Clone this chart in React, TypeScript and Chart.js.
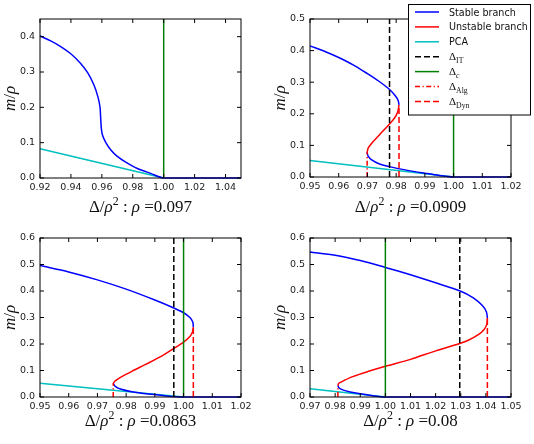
import React, { useEffect, useRef } from 'react';
import { Chart, registerables } from 'chart.js';

Chart.register(...registerables);

// ---------- colours ----------
const BLUE = '#0000ff';
const RED = '#ff0000';
const CYAN = '#00bfbf';
const GREEN = '#008000';
const BLACK = '#000000';

// ---------- ρ = 0.097 ----------
const A_X_TICKS = [0.92, 0.94, 0.96, 0.98, 1.0, 1.02, 1.04];
const A_Y_TICKS = [0.0, 0.1, 0.2, 0.3, 0.4];
const A_STABLE_X = [0.92, 0.9269, 0.9334, 0.9401, 0.9463, 0.9511, 0.9549, 0.9575, 0.9588, 0.9592, 0.9597, 0.9605, 0.9625, 0.9657, 0.97, 0.9754, 0.983, 0.9916, 1.0, 1.05];
const A_STABLE_Y = [0.402, 0.388, 0.372, 0.351, 0.324, 0.296, 0.263, 0.229, 0.201, 0.173, 0.139, 0.12, 0.101, 0.08, 0.061, 0.045, 0.027, 0.013, 0.0, 0.0];
const A_PCA_X = [0.92, 1.0];
const A_PCA_Y = [0.083, 0.0];
const A_DELTA_C = 1.0;

// ---------- ρ = 0.0909 ----------
const B_X_TICKS = [0.95, 0.96, 0.97, 0.98, 0.99, 1.0, 1.01, 1.02];
const B_Y_TICKS = [0.0, 0.1, 0.2, 0.3, 0.4, 0.5];
const B_UPPER_X = [0.95, 0.955, 0.96, 0.965, 0.97, 0.974, 0.9777, 0.9797, 0.9807, 0.981];
const B_UPPER_Y = [0.415, 0.398, 0.378, 0.355, 0.327, 0.303, 0.277, 0.257, 0.242, 0.228];
const B_UNSTABLE_X = [0.981, 0.9805, 0.9793, 0.9777, 0.9755, 0.9733, 0.9715, 0.9703, 0.9699];
const B_UNSTABLE_Y = [0.228, 0.205, 0.185, 0.168, 0.146, 0.125, 0.107, 0.092, 0.079];
const B_LOWER_X = [0.9699, 0.9702, 0.9715, 0.974, 0.978, 0.984, 0.99, 0.995, 1.0, 1.02];
const B_LOWER_Y = [0.079, 0.067, 0.054, 0.042, 0.032, 0.021, 0.012, 0.005, 0.0, 0.0];
const B_PCA_X = [0.95, 1.0];
const B_PCA_Y = [0.052, 0.0];
const B_DELTA_IT = 0.9777;
const B_DELTA_C = 1.0;
const B_DELTA_ALG = 0.9699;
const B_DELTA_DYN = 0.981;

// ---------- ρ = 0.0863 ----------
const C_X_TICKS = [0.95, 0.96, 0.97, 0.98, 0.99, 1.0, 1.01, 1.02];
const C_Y_TICKS = [0.0, 0.1, 0.2, 0.3, 0.4, 0.5, 0.6];
const C_UPPER_X = [0.95, 0.96, 0.97, 0.98, 0.99, 0.9966, 1.0, 1.0022, 1.0032, 1.0034];
const C_UPPER_Y = [0.496, 0.472, 0.442, 0.407, 0.366, 0.336, 0.318, 0.3, 0.283, 0.264];
const C_UNSTABLE_X = [1.0034, 1.0031, 1.0022, 1.0, 0.9966, 0.992, 0.987, 0.982, 0.9785, 0.9763, 0.9755];
const C_UNSTABLE_Y = [0.264, 0.245, 0.228, 0.207, 0.183, 0.152, 0.124, 0.097, 0.077, 0.062, 0.052];
const C_LOWER_X = [0.9755, 0.9762, 0.978, 0.982, 0.988, 0.994, 1.0, 1.02];
const C_LOWER_Y = [0.052, 0.04, 0.03, 0.02, 0.011, 0.004, 0.0, 0.0];
const C_PCA_X = [0.95, 1.0];
const C_PCA_Y = [0.052, 0.0];
const C_DELTA_IT = 0.9966;
const C_DELTA_C = 1.0;
const C_DELTA_ALG = 0.9755;
const C_DELTA_DYN = 1.0034;

// ---------- ρ = 0.08 ----------
const D_X_TICKS = [0.97, 0.98, 0.99, 1.0, 1.01, 1.02, 1.03, 1.04, 1.05];
const D_Y_TICKS = [0.0, 0.1, 0.2, 0.3, 0.4, 0.5, 0.6];
const D_UPPER_X = [0.97, 0.98, 0.99, 1.0, 1.01, 1.02, 1.03, 1.035, 1.0385, 1.0402, 1.0406];
const D_UPPER_Y = [0.547, 0.535, 0.515, 0.489, 0.461, 0.431, 0.399, 0.374, 0.346, 0.322, 0.298];
const D_UNSTABLE_X = [1.0406, 1.0404, 1.0393, 1.037, 1.033, 1.0296, 1.02, 1.01, 1.0, 0.993, 0.987, 0.9835, 0.9815, 0.9811];
const D_UNSTABLE_Y = [0.298, 0.275, 0.255, 0.235, 0.214, 0.202, 0.174, 0.142, 0.116, 0.096, 0.077, 0.062, 0.052, 0.044];
const D_LOWER_X = [0.9811, 0.9815, 0.983, 0.986, 0.99, 0.995, 1.0, 1.05];
const D_LOWER_Y = [0.044, 0.035, 0.027, 0.019, 0.012, 0.005, 0.0, 0.0];
const D_PCA_X = [0.97, 1.0];
const D_PCA_Y = [0.031, 0.0];
const D_DELTA_IT = 1.0296;
const D_DELTA_C = 1.0;
const D_DELTA_ALG = 0.9811;
const D_DELTA_DYN = 1.0406;

// ---------- layout ----------
const CW = 267;
const CH = 222;
const TICK_FONT = '"DejaVu Sans", sans-serif';
const MATH_FONT = '"Liberation Serif", "DejaVu Serif", serif';

type Series = { xs: number[]; ys: number[]; color: string; dash?: number[]; width?: number; smooth?: boolean };
type Panel = {
  pos: [number, number];
  area: { l: number; t: number; r: number; b: number };
  xRange: [number, number];
  yRange: [number, number];
  xTicks: number[];
  yTicks: number[];
  rho: string;
  titleY: number;
  series: Series[];
  legend?: boolean;
};

const DASHED = [6, 3];
const DASHDOT = [5, 2.5, 1.2, 2.5];

const vline = (x: number, top: number, color: string, dash?: number[]): Series => ({
  xs: [x, x],
  ys: [0, top],
  color,
  dash,
});

const curve = (xs: number[], ys: number[], color: string): Series => ({ xs, ys, color, smooth: true });

const PANELS: Panel[] = [
  {
    pos: [0, 0],
    area: { l: 40, t: 19, r: 241, b: 178 },
    xRange: [0.92, 1.05],
    yRange: [0, 0.45],
    xTicks: A_X_TICKS,
    yTicks: A_Y_TICKS,
    rho: '0.097',
    titleY: 212,
    series: [
      { xs: A_PCA_X, ys: A_PCA_Y, color: CYAN },
      curve(A_STABLE_X, A_STABLE_Y, BLUE),
      vline(A_DELTA_C, 0.45, GREEN),
    ],
  },
  {
    pos: [267, 0],
    area: { l: 43, t: 19, r: 244, b: 177 },
    xRange: [0.95, 1.02],
    yRange: [0, 0.5],
    xTicks: B_X_TICKS,
    yTicks: B_Y_TICKS,
    rho: '0.0909',
    titleY: 212,
    legend: true,
    series: [
      { xs: B_PCA_X, ys: B_PCA_Y, color: CYAN },
      curve(B_UPPER_X, B_UPPER_Y, BLUE),
      curve(B_LOWER_X, B_LOWER_Y, BLUE),
      curve(B_UNSTABLE_X, B_UNSTABLE_Y, RED),
      vline(B_DELTA_IT, 0.5, BLACK, DASHED),
      vline(B_DELTA_C, 0.5, GREEN),
      vline(B_DELTA_ALG, B_UNSTABLE_Y[B_UNSTABLE_Y.length - 1], RED, DASHDOT),
      vline(B_DELTA_DYN, B_UNSTABLE_Y[0], RED, DASHED),
    ],
  },
  {
    pos: [0, 222],
    area: { l: 40, t: 16, r: 241, b: 175 },
    xRange: [0.95, 1.02],
    yRange: [0, 0.6],
    xTicks: C_X_TICKS,
    yTicks: C_Y_TICKS,
    rho: '0.0863',
    titleY: 204,
    series: [
      { xs: C_PCA_X, ys: C_PCA_Y, color: CYAN },
      curve(C_UPPER_X, C_UPPER_Y, BLUE),
      curve(C_LOWER_X, C_LOWER_Y, BLUE),
      curve(C_UNSTABLE_X, C_UNSTABLE_Y, RED),
      vline(C_DELTA_IT, 0.6, BLACK, DASHED),
      vline(C_DELTA_C, 0.6, GREEN),
      vline(C_DELTA_ALG, C_UNSTABLE_Y[C_UNSTABLE_Y.length - 1], RED, DASHDOT),
      vline(C_DELTA_DYN, C_UNSTABLE_Y[0], RED, DASHED),
    ],
  },
  {
    pos: [267, 222],
    area: { l: 43, t: 16, r: 244, b: 175 },
    xRange: [0.97, 1.05],
    yRange: [0, 0.6],
    xTicks: D_X_TICKS,
    yTicks: D_Y_TICKS,
    rho: '0.08',
    titleY: 204,
    series: [
      { xs: D_PCA_X, ys: D_PCA_Y, color: CYAN },
      curve(D_UPPER_X, D_UPPER_Y, BLUE),
      curve(D_LOWER_X, D_LOWER_Y, BLUE),
      curve(D_UNSTABLE_X, D_UNSTABLE_Y, RED),
      vline(D_DELTA_IT, 0.6, BLACK, DASHED),
      vline(D_DELTA_C, 0.6, GREEN),
      vline(D_DELTA_ALG, D_UNSTABLE_Y[D_UNSTABLE_Y.length - 1], RED, DASHDOT),
      vline(D_DELTA_DYN, D_UNSTABLE_Y[0], RED, DASHED),
    ],
  },
];

// ---------- mixed roman / italic / script text ----------
type Run = { t: string; it?: boolean; sup?: boolean; sub?: boolean };

function drawRuns(
  ctx: CanvasRenderingContext2D,
  runs: Run[],
  x: number,
  y: number,
  size: number,
  align: 'left' | 'center',
  family: string
) {
  const fontFor = (r: Run) => {
    const s = r.sup || r.sub ? size * 0.7 : size;
    return `${r.it ? 'italic ' : ''}${s}px ${family}`;
  };
  let total = 0;
  for (const r of runs) {
    ctx.font = fontFor(r);
    total += ctx.measureText(r.t).width;
  }
  let cx = align === 'center' ? x - total / 2 : x;
  ctx.textAlign = 'left';
  ctx.textBaseline = 'alphabetic';
  for (const r of runs) {
    ctx.font = fontFor(r);
    const dy = r.sup ? -size * 0.42 : r.sub ? size * 0.25 : 0;
    ctx.fillText(r.t, cx, y + dy);
    cx += ctx.measureText(r.t).width;
  }
}

const LEGEND: { label: Run[]; color: string; dash?: number[]; math?: boolean }[] = [
  { label: [{ t: 'Stable branch' }], color: BLUE },
  { label: [{ t: 'Unstable branch' }], color: RED },
  { label: [{ t: 'PCA' }], color: CYAN },
  { label: [{ t: 'Δ' }, { t: 'IT', sub: true }], color: BLACK, dash: DASHED, math: true },
  { label: [{ t: 'Δ' }, { t: 'c', sub: true, it: true }], color: GREEN, math: true },
  { label: [{ t: 'Δ' }, { t: 'Alg', sub: true }], color: RED, dash: DASHDOT, math: true },
  { label: [{ t: 'Δ' }, { t: 'Dyn', sub: true }], color: RED, dash: DASHED, math: true },
];

function makeDecor(p: Panel) {
  return {
    id: 'decor',
    afterDraw(chart: any) {
      const ctx: CanvasRenderingContext2D = chart.ctx;
      const { left, right, top, bottom } = chart.chartArea;
      const xs = chart.scales.x;
      const ys = chart.scales.y;
      ctx.save();
      // frame
      ctx.strokeStyle = '#000';
      ctx.lineWidth = 1;
      ctx.setLineDash([]);
      ctx.strokeRect(left, top, right - left, bottom - top);
      // inward ticks on all four sides
      const TL = 4;
      ctx.beginPath();
      for (const v of p.xTicks) {
        const px = xs.getPixelForValue(v);
        ctx.moveTo(px, bottom);
        ctx.lineTo(px, bottom - TL);
        ctx.moveTo(px, top);
        ctx.lineTo(px, top + TL);
      }
      for (const v of p.yTicks) {
        const py = ys.getPixelForValue(v);
        ctx.moveTo(left, py);
        ctx.lineTo(left + TL, py);
        ctx.moveTo(right, py);
        ctx.lineTo(right - TL, py);
      }
      ctx.stroke();

      // axis titles
      ctx.fillStyle = '#111';
      drawRuns(
        ctx,
        [
          { t: 'Δ/' },
          { t: 'ρ', it: true },
          { t: '2', sup: true },
          { t: ' : ' },
          { t: 'ρ', it: true },
          { t: ' =' },
          { t: p.rho },
        ],
        (left + right) / 2,
        p.titleY,
        17,
        'center',
        MATH_FONT
      );
      ctx.save();
      ctx.translate(left - 30, (top + bottom) / 2);
      ctx.rotate(-Math.PI / 2);
      drawRuns(ctx, [{ t: 'm', it: true }, { t: '/' }, { t: 'ρ', it: true }], 0, 5, 17, 'center', MATH_FONT);
      ctx.restore();

      // legend
      if (p.legend) {
        const bx = 141.5;
        const by = 4.5;
        const bw = 122;
        const bh = 110.5;
        ctx.fillStyle = '#fff';
        ctx.fillRect(bx, by, bw, bh);
        ctx.strokeStyle = '#000';
        ctx.lineWidth = 1;
        ctx.setLineDash([]);
        ctx.strokeRect(bx, by, bw, bh);
        LEGEND.forEach((e, i) => {
          const ly = 12 + i * 14.9;
          ctx.strokeStyle = e.color;
          ctx.lineWidth = 1.5;
          ctx.setLineDash(e.dash || []);
          ctx.beginPath();
          ctx.moveTo(148, ly);
          ctx.lineTo(172, ly);
          ctx.stroke();
          ctx.setLineDash([]);
          ctx.fillStyle = '#111';
          if (e.math) {
            drawRuns(ctx, e.label, 182, ly + 3.5, 11, 'left', MATH_FONT);
          } else {
            drawRuns(ctx, e.label, 182, ly + 3.5, 9.6, 'left', TICK_FONT);
          }
        });
      }
      ctx.restore();
    },
  };
}

function PanelChart({ p }: { p: Panel }) {
  const ref = useRef<HTMLCanvasElement | null>(null);
  useEffect(() => {
    if (!ref.current) return;
    const n = p.series.length;
    const chart = new Chart(ref.current, {
      type: 'scatter',
      data: {
        datasets: p.series.map((s, i) => ({
          data: s.xs.map((x, k) => ({ x, y: s.ys[k] })),
          showLine: true,
          borderColor: s.color,
          backgroundColor: s.color,
          borderWidth: s.width ?? 1.5,
          borderDash: s.dash || [],
          pointRadius: 0,
          tension: s.smooth ? 0.3 : 0,
          clip: 4,
          order: n - i,
        })),
      },
      options: {
        animation: false,
        responsive: false,
        events: [],
        layout: {
          padding: { left: 0, top: p.area.t, right: CW - p.area.r, bottom: 0 },
        },
        plugins: { legend: { display: false }, tooltip: { enabled: false } },
        scales: {
          x: {
            type: 'linear',
            min: p.xRange[0],
            max: p.xRange[1],
            grid: { display: false, drawTicks: false },
            border: { display: false },
            ticks: {
              padding: 4,
              color: '#222',
              font: { family: TICK_FONT, size: 9.5 },
              maxRotation: 0,
              callback: (v: any) => Number(v).toFixed(2),
            },
            afterBuildTicks: (s: any) => {
              s.ticks = p.xTicks.map((v) => ({ value: v }));
            },
            afterFit: (s: any) => {
              s.height = CH - p.area.b;
            },
          },
          y: {
            type: 'linear',
            min: p.yRange[0],
            max: p.yRange[1],
            grid: { display: false, drawTicks: false },
            border: { display: false },
            ticks: {
              padding: 5,
              color: '#222',
              font: { family: TICK_FONT, size: 9.5 },
              callback: (v: any) => Number(v).toFixed(1),
            },
            afterBuildTicks: (s: any) => {
              s.ticks = p.yTicks.map((v) => ({ value: v }));
            },
            afterFit: (s: any) => {
              s.width = p.area.l;
            },
          },
        },
      },
      plugins: [makeDecor(p)],
    } as any);
    return () => chart.destroy();
  }, [p]);
  return (
    <canvas
      ref={ref}
      width={CW}
      height={CH}
      style={{ position: 'absolute', left: p.pos[0], top: p.pos[1], width: CW, height: CH }}
    />
  );
}

export default function App() {
  return (
    <div
      style={{
        position: 'absolute',
        left: 0,
        top: 0,
        width: 534,
        height: 444,
        background: '#fff',
        overflow: 'hidden',
      }}
    >
      {PANELS.map((p, i) => (
        <PanelChart key={i} p={p} />
      ))}
    </div>
  );
}
